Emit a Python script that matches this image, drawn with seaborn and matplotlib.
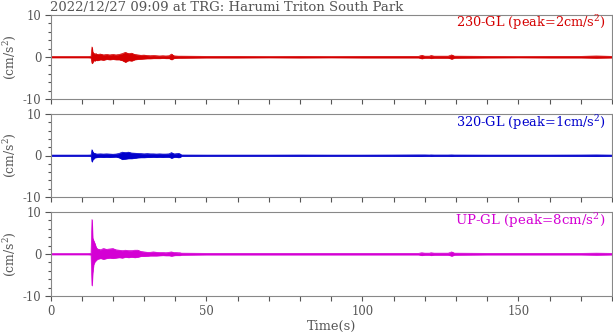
import matplotlib
matplotlib.use("Agg")
import matplotlib.pyplot as plt
import seaborn as sns
import pandas as pd
from matplotlib.ticker import MultipleLocator, FixedLocator, FixedFormatter

sns.set_theme(style="white")
plt.rcParams['font.family'] = ['DejaVu Serif']
plt.rcParams['mathtext.fontset'] = 'dejavuserif'

title = "2022/12/27 09:09 at TRG: Harumi Triton South Park"
channels = ["230-GL", "320-GL", "UP-GL"]
peaks = [2, 1, 8]
colors = ["#d40000", "#0000cc", "#d400d4"]

time_s = [0, 12, 13.0, 13.3, 13.5, 13.8, 14.2, 14.6, 15, 16, 17, 18, 19, 20, 21, 22,
          23, 24, 25, 26, 27, 28, 29, 30, 31, 32, 33, 34, 35, 36, 37, 38, 38.8, 39.5,
          40, 41, 41.5, 42, 50, 60, 70, 80, 90, 100, 110, 118, 119, 120, 121.5, 122,
          123, 127.5, 128.6, 129.5, 140, 150, 160, 170, 175, 180]

upper_230 = [0.12, 0.12, 0.15, 2.4, 1.2, 0.9, 0.7, 0.8, 0.6, 0.7, 0.5, 0.6, 0.5, 0.6, 0.5, 0.6,
             0.8, 1.1, 0.8, 0.9, 0.6, 0.5, 0.4, 0.45, 0.35, 0.3, 0.35, 0.3, 0.25, 0.3, 0.25, 0.3, 0.7, 0.3,
             0.25, 0.2, 0.2, 0.2, 0.15, 0.15, 0.12, 0.15, 0.12, 0.15, 0.15, 0.15, 0.4, 0.2, 0.2, 0.35,
             0.2, 0.2, 0.5, 0.2, 0.15, 0.12, 0.15, 0.15, 0.25, 0.15]
lower_230 = [-0.12, -0.12, -0.15, -1.5, -1.3, -0.8, -0.9, -0.7, -0.8, -0.6, -0.7, -0.5, -0.6, -0.5, -0.6, -0.6,
             -0.8, -1.2, -0.8, -0.9, -0.6, -0.5, -0.45, -0.4, -0.35, -0.35, -0.3, -0.3, -0.3, -0.25, -0.3, -0.3, -0.6, -0.3,
             -0.25, -0.2, -0.2, -0.2, -0.15, -0.15, -0.12, -0.15, -0.12, -0.15, -0.15, -0.15, -0.35, -0.2, -0.2, -0.3,
             -0.2, -0.2, -0.45, -0.2, -0.15, -0.12, -0.15, -0.15, -0.2, -0.15]

upper_320 = [0.1, 0.1, 0.12, 1.4, 0.9, 0.6, 0.5, 0.4, 0.35, 0.4, 0.35, 0.4, 0.35, 0.3, 0.35, 0.5,
             0.8, 0.7, 0.8, 0.6, 0.55, 0.5, 0.45, 0.4, 0.45, 0.4, 0.4, 0.35, 0.4, 0.35, 0.35, 0.4, 0.7, 0.4,
             0.4, 0.5, 0.4, 0.12, 0.1, 0.1, 0.1, 0.12, 0.1, 0.1, 0.12, 0.15, 0.15, 0.15, 0.12, 0.15,
             0.12, 0.12, 0.15, 0.12, 0.1, 0.1, 0.1, 0.12, 0.15, 0.1]
lower_320 = [-0.1, -0.1, -0.12, -1.5, -1.0, -0.8, -0.5, -0.45, -0.4, -0.35, -0.4, -0.35, -0.4, -0.35, -0.3, -0.5,
             -0.9, -0.8, -0.7, -0.7, -0.6, -0.5, -0.45, -0.45, -0.4, -0.4, -0.35, -0.4, -0.35, -0.4, -0.35, -0.35, -0.6, -0.4,
             -0.35, -0.45, -0.4, -0.12, -0.1, -0.1, -0.1, -0.12, -0.1, -0.1, -0.12, -0.15, -0.15, -0.12, -0.12, -0.15,
             -0.12, -0.12, -0.15, -0.12, -0.1, -0.1, -0.1, -0.12, -0.15, -0.1]

upper_up = [0.12, 0.12, 0.15, 8.2, 3.8, 3.2, 2.5, 1.6, 1.2, 1.0, 1.3, 1.1, 1.2, 1.3, 1.0, 0.9,
            0.8, 0.9, 0.8, 0.8, 0.9, 0.9, 0.6, 0.5, 0.4, 0.4, 0.5, 0.4, 0.35, 0.35, 0.3, 0.4, 0.5, 0.35,
            0.35, 0.3, 0.3, 0.2, 0.15, 0.15, 0.15, 0.15, 0.15, 0.15, 0.15, 0.15, 0.3, 0.2, 0.2, 0.3,
            0.2, 0.2, 0.5, 0.2, 0.15, 0.15, 0.15, 0.15, 0.2, 0.15]
lower_up = [-0.12, -0.12, -0.15, -7.5, -4.5, -2.5, -1.8, -1.5, -1.2, -1.0, -1.2, -1.0, -0.9, -1.0, -0.9, -0.8,
            -0.9, -0.7, -0.8, -0.7, -0.8, -0.7, -0.5, -0.5, -0.45, -0.4, -0.4, -0.4, -0.35, -0.3, -0.35, -0.35, -0.45, -0.35,
            -0.3, -0.3, -0.3, -0.2, -0.15, -0.15, -0.15, -0.15, -0.15, -0.15, -0.15, -0.15, -0.3, -0.2, -0.2, -0.3,
            -0.2, -0.2, -0.45, -0.2, -0.15, -0.15, -0.15, -0.15, -0.2, -0.15]

uppers = [upper_230, upper_320, upper_up]
lowers = [lower_230, lower_320, lower_up]

gray = "#555555"
W, H = 613, 334
fig = plt.figure(figsize=(W / 100, H / 100), dpi=100)
panel_px = [(15, 99), (114, 197), (212, 296)]
left_px, right_px = 50.5, 612
aw = right_px - left_px


def fit(txt, target_px):
    fig.canvas.draw()
    r = fig.canvas.get_renderer()
    bb = txt.get_window_extent(r)
    size = max(bb.width, bb.height) if txt.get_rotation() else bb.width
    txt.set_fontsize(txt.get_fontsize() * target_px / size)


axes, labels, ylabs = [], [], []
for i, (top, bot) in enumerate(panel_px):
    ax = fig.add_axes([left_px / W, 1 - bot / H, aw / W, (bot - top) / H])
    axes.append(ax)
    df = pd.DataFrame({"t": time_s, "hi": uppers[i], "lo": lowers[i]})
    ax.fill_between(df["t"], df["lo"], df["hi"], color=colors[i], linewidth=0.5)
    sns.lineplot(data=df, x="t", y="hi", ax=ax, color=colors[i], lw=0.5, estimator=None, sort=False)
    sns.lineplot(data=df, x="t", y="lo", ax=ax, color=colors[i], lw=0.5, estimator=None, sort=False)
    ax.set_xlim(0, 180)
    ax.set_ylim(-10, 10)
    ax.set_xlabel("")
    ax.set_ylabel("")
    ax.yaxis.set_major_locator(FixedLocator([-10, 0, 10]))
    ax.yaxis.set_major_formatter(FixedFormatter(["-10", "0", "10"]))
    ax.yaxis.set_minor_locator(MultipleLocator(2))
    ax.xaxis.set_major_locator(MultipleLocator(50))
    ax.xaxis.set_minor_locator(MultipleLocator(10))
    ax.tick_params(axis="both", which="both", direction="out", colors=gray, labelsize=8.4)
    ax.tick_params(axis="y", which="major", length=4.5, width=0.8, left=True, pad=2)
    ax.tick_params(axis="y", which="minor", length=2.5, width=0.8, left=True)
    ax.tick_params(axis="x", which="both", length=3.5, width=0.8, bottom=True, pad=3)
    for s in ax.spines.values():
        s.set_color("#888888")
        s.set_linewidth(0.8)
    if i < 2:
        ax.tick_params(axis="x", labelbottom=False)
    lab = ax.text((605.7 - left_px) / aw, 1 - 12.5 / (bot - top), f"{channels[i]} (peak={peaks[i]}cm/s$^2$)",
                  transform=ax.transAxes, ha="right", va="baseline", color=colors[i], fontsize=9)
    labels.append(lab)
    yl = fig.text(10 / W, 1 - ((top + bot) / 2) / H, "(cm/s$^2$)", rotation=90, ha="center", va="center",
                  color=gray, fontsize=9)
    ylabs.append(yl)

ttl = fig.text(50 / W, 1 - 10.5 / H, title, ha="left", va="baseline", color=gray, fontsize=8.5)
xl = fig.text(331.5 / W, 1 - 326 / H, "Time(s)", ha="center", va="center", color=gray, fontsize=8.5)

fit(ttl, 352)
fit(xl, 49)
for lab in labels:
    fit(lab, 150)
for yl in ylabs:
    fit(yl, 46)

fig.savefig("out.png", dpi=100)
